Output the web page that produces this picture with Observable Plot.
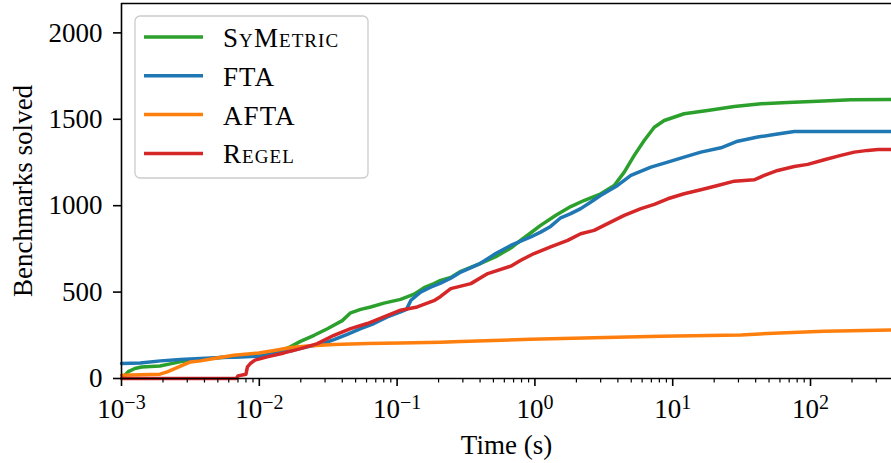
<!DOCTYPE html>
<html>
<head>
<meta charset="utf-8">
<script src="https://cdn.jsdelivr.net/npm/d3@7"></script>
<script src="https://cdn.jsdelivr.net/npm/@observablehq/plot@0.6"></script>
<style>
  html, body { margin: 0; padding: 0; background: #fff; }
</style>
</head>
<body>
<script>
// ---- Data ----
const seriesNames = ["SyMetric", "FTA", "AFTA", "Regel"];
const seriesColors = ["#2ca02c", "#1f77b4", "#ff7f0e", "#d62728"];

const symetricTime = [0.00105, 0.00112, 0.00125, 0.0014, 0.0019, 0.0023, 0.0027, 0.00375, 0.00524, 0.007, 0.0099, 0.0135, 0.016, 0.0199, 0.025, 0.0312, 0.035, 0.04, 0.046, 0.0544, 0.0643, 0.0803, 0.106, 0.133, 0.157, 0.185, 0.207, 0.245, 0.29, 0.40, 0.52, 0.668, 0.79, 0.93, 1.10, 1.42, 1.82, 2.27, 3.01, 3.76, 4.45, 5.26, 6.21, 7.35, 8.68, 12.1, 17.9, 28, 43.7, 68, 113, 197, 387];
const symetricSolved = [15, 40, 58, 67, 72, 86, 98, 110, 121, 128, 135, 158, 175, 215, 250, 288, 310, 335, 380, 400, 414, 436, 458, 488, 526, 549, 568, 585, 620, 665, 705, 755, 800, 842, 886, 945, 995, 1030, 1069, 1117, 1194, 1291, 1377, 1454, 1493, 1532, 1551, 1574, 1590, 1597, 1605, 1613, 1615];

const ftaTime = [0.001, 0.00137, 0.00192, 0.00268, 0.00375, 0.00524, 0.00731, 0.00993, 0.0135, 0.0178, 0.0223, 0.0279, 0.0348, 0.0435, 0.0544, 0.068, 0.085, 0.106, 0.117, 0.126, 0.148, 0.175, 0.207, 0.245, 0.29, 0.40, 0.52, 0.668, 0.933, 1.10, 1.30, 1.54, 1.82, 2.15, 2.55, 3.01, 3.98, 4.97, 6.95, 9.2, 12.1, 16.0, 22.4, 29.6, 41.4, 54.6, 76.2, 387];
const ftaSolved = [87, 90, 102, 110, 116, 121, 125, 129, 145, 164, 183, 198, 225, 256, 289, 318, 356, 385, 400, 453, 500, 528, 552, 580, 616, 665, 723, 770, 819, 847, 880, 930, 954, 983, 1021, 1060, 1117, 1175, 1223, 1252, 1281, 1310, 1335, 1373, 1397, 1412, 1429, 1429];

const aftaTime = [0.001, 0.0019, 0.00215, 0.00268, 0.00317, 0.00375, 0.00468, 0.00654, 0.00993, 0.0135, 0.0169, 0.0223, 0.0348, 0.0608, 0.106, 0.207, 0.29, 0.93, 2.7, 8.2, 31.3, 54, 125, 387];
const aftaSolved = [19, 25, 38, 71, 96, 102, 116, 135, 148, 165, 179, 188, 197, 202, 206, 210, 214, 227, 236, 244, 252, 262, 274, 280];

const regelTime = [0.001, 0.0068, 0.0070, 0.0080, 0.0082, 0.0087, 0.0093, 0.0114, 0.0151, 0.0199, 0.0264, 0.0348, 0.046, 0.0608, 0.0803, 0.106, 0.140, 0.185, 0.207, 0.245, 0.343, 0.455, 0.668, 0.79, 0.986, 1.30, 1.73, 2.15, 2.69, 3.37, 4.45, 5.88, 7.35, 9.2, 12.1, 16, 21.2, 28, 39, 46.2, 57.8, 76.2, 95.5, 126, 166, 208, 260, 309, 387];
const regelSolved = [0, 0, 15, 25, 67, 90, 106, 125, 148, 173, 202, 250, 289, 318, 356, 395, 414, 450, 475, 520, 549, 607, 650, 684, 723, 761, 799, 838, 857, 896, 944, 983, 1008, 1040, 1069, 1092, 1117, 1142, 1150, 1175, 1204, 1227, 1239, 1266, 1291, 1310, 1320, 1325, 1325];

const xDomain = [1e-3, 387];
const yDomain = [0, 2170];
const xMajorTicks = [1e-3, 1e-2, 1e-1, 1e0, 1e1, 1e2];
const yTicks = [0, 500, 1000, 1500, 2000];
const xLabel = "Time (s)";
const yLabel = "Benchmarks solved";

// ---- Build table ----
const table = [];
[[symetricTime, symetricSolved], [ftaTime, ftaSolved], [aftaTime, aftaSolved], [regelTime, regelSolved]]
  .forEach(([ts, ns], i) => ts.forEach((t, j) => table.push({series: seriesNames[i], t, n: ns[j]})));

const xMinorTicks = [];
for (const m of xMajorTicks) for (let k = 2; k <= 9; k++) { const v = k * m; if (v <= xDomain[1]) xMinorTicks.push(v); }

const FONT = "'Liberation Serif', serif";
const AX = 1.6;

const svg = Plot.plot({
  width: 891,
  height: 463,
  marginLeft: 121,
  marginRight: 0,
  marginTop: 3,
  marginBottom: 85,
  style: {fontFamily: FONT, fontSize: "26px", color: "#000", background: "#fff"},
  x: {type: "log", domain: xDomain, label: null},
  y: {domain: yDomain, label: null},
  color: {domain: seriesNames, range: seriesColors},
  marks: [
    Plot.line(table, {x: "t", y: "n", z: "series", stroke: "series", strokeWidth: 3.5, strokeLinejoin: "round"}),
    Plot.ruleX([xDomain[0]], {stroke: "#000", strokeWidth: AX}),
    Plot.ruleY([yDomain[0]], {stroke: "#000", strokeWidth: AX}),
    Plot.ruleY([yDomain[1]], {stroke: "#000", strokeWidth: AX}),
    Plot.axisY({ticks: yTicks, tickSize: 8, tickPadding: 11, tickFormat: d => String(d), strokeWidth: AX, fill: "#000", fontSize: 27}),
    Plot.axisX({ticks: xMinorTicks, tickSize: 4.5, tickFormat: () => "", strokeWidth: 1.2}),
    Plot.axisX({ticks: xMajorTicks, tickSize: 8, tickPadding: 12, tickFormat: d => "10^" + Math.round(Math.log10(d)), strokeWidth: AX, fill: "#000", fontSize: 27}),
    Plot.text([xLabel], {frameAnchor: "bottom", dy: 67, lineAnchor: "middle", textAnchor: "middle", fontSize: 27, fill: "#000"}),
    Plot.text([yLabel], {frameAnchor: "left", dx: -98, rotate: -90, lineAnchor: "middle", textAnchor: "middle", fontSize: 27, fill: "#000"})
  ]
});

// superscript exponents on the log-axis labels
for (const t of svg.querySelectorAll("text")) {
  const m = /^10\^(-?\d+)$/.exec(t.textContent);
  if (m) {
    t.textContent = "";
    const ns = "http://www.w3.org/2000/svg";
    const a = document.createElementNS(ns, "tspan");
    a.textContent = "10";
    const b = document.createElementNS(ns, "tspan");
    b.textContent = m[1].replace("-", "\u2212");
    b.setAttribute("dy", "-0.42em");
    b.setAttribute("font-size", "20px");
    t.append(a, b);
  }
}

// legend inside the plot, upper left
const lg = d3.select(svg).append("g").attr("font-family", FONT).attr("font-size", 27).attr("text-anchor", "start");
lg.append("rect").attr("x", 135).attr("y", 16).attr("width", 233).attr("height", 162)
  .attr("rx", 5).attr("fill", "#fff").attr("fill-opacity", 0.8).attr("stroke", "#cccccc").attr("stroke-width", 1.3);
seriesNames.forEach((name, i) => {
  const cy = 37 + i * 38.8;
  lg.append("line").attr("x1", 144).attr("x2", 203).attr("y1", cy).attr("y2", cy)
    .attr("stroke", seriesColors[i]).attr("stroke-width", 3.5);
  lg.append("text").attr("x", 223).attr("y", cy + 10).attr("fill", "#000")
    .attr("text-anchor", "start")
    .style("font-variant", (name === "FTA" || name === "AFTA") ? "normal" : "small-caps")
    .style("letter-spacing", "0.04em")
    .text(name);
});

document.body.append(svg);
</script>
</body>
</html>
